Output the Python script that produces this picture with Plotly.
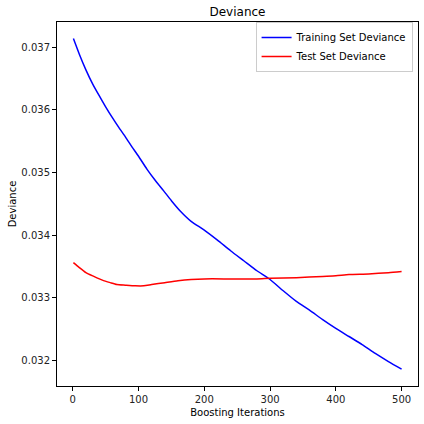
import plotly.graph_objects as go

# Boosting iterations
train_iter = [1, 10, 20, 30, 40, 50, 60, 70, 80, 90, 100, 113, 125, 138, 150, 163,
              180, 200, 220, 240, 260, 280, 300, 320, 340, 360, 380, 400, 420, 440,
              460, 480, 500]
train_dev = [0.03714, 0.03689, 0.03664, 0.03642, 0.03623, 0.03605, 0.03588, 0.03572,
             0.03557, 0.03541, 0.03526, 0.03505, 0.03488, 0.03471, 0.03455, 0.03439,
             0.03422, 0.03408, 0.03392, 0.03375, 0.03359, 0.03343, 0.03329, 0.03311,
             0.03294, 0.03280, 0.03265, 0.03251, 0.03238, 0.03225, 0.03211, 0.03198,
             0.03186]

test_iter = [1, 10, 20, 32, 45, 57, 67, 80, 95, 108, 120, 140, 160, 180, 200, 240,
             280, 300, 340, 380, 400, 420, 450, 480, 500]
test_dev = [0.03356, 0.03348, 0.03340, 0.03334, 0.03328, 0.03324, 0.03321, 0.03320,
            0.03319, 0.03319, 0.03321, 0.03324, 0.03327, 0.03329, 0.03330, 0.03330,
            0.03330, 0.03331, 0.03332, 0.03334, 0.03335, 0.03337, 0.03338, 0.03340,
            0.03342]

x_ticks = [0, 100, 200, 300, 400, 500]
y_ticks = [0.032, 0.033, 0.034, 0.035, 0.036, 0.037]
y_tick_text = ["0.032", "0.033", "0.034", "0.035", "0.036", "0.037"]

font = "DejaVu Sans"

fig = go.Figure()
fig.add_trace(go.Scatter(x=train_iter, y=train_dev, mode="lines",
                         name="Training Set Deviance",
                         line=dict(color="#0000ff", width=1.5, shape="spline", smoothing=0.6)))
fig.add_trace(go.Scatter(x=test_iter, y=test_dev, mode="lines",
                         name="Test Set Deviance",
                         line=dict(color="#ff0000", width=1.5, shape="spline", smoothing=0.6)))

axis_common = dict(showline=True, linecolor="black", linewidth=1, mirror=True,
                   ticks="outside", ticklen=4, tickcolor="black", showgrid=False,
                   zeroline=False, tickfont=dict(family=font, size=10, color="#222"))

fig.update_layout(
    width=424, height=424,
    margin=dict(l=57, r=6, t=22, b=38),
    paper_bgcolor="white", plot_bgcolor="white",
    font=dict(family=font, size=10, color="black"),
    title=dict(text="Deviance", x=0.5, xref="paper", y=1 - 12 / 424,
               yanchor="middle", font=dict(family=font, size=12, color="black")),
    xaxis=dict(range=[-23.95, 524.95], tickvals=x_ticks,
               title=dict(text="Boosting Iterations", standoff=4,
                          font=dict(family=font, size=10)),
               **axis_common),
    yaxis=dict(range=[0.031589, 0.037404], tickvals=y_ticks, ticktext=y_tick_text,
               title=dict(text="Deviance", standoff=2,
                          font=dict(family=font, size=10)),
               **axis_common),
    legend=dict(x=0.985, y=1.0, xanchor="right", yanchor="top",
                bgcolor="rgba(255,255,255,0.8)", bordercolor="#cccccc", borderwidth=1,
                font=dict(family=font, size=10), tracegroupgap=0,
                itemwidth=30),
    showlegend=True,
)

fig.write_html("out.html", config={"displayModeBar": False},
               post_script="document.body.style.margin='0';document.body.style.padding='0';")
